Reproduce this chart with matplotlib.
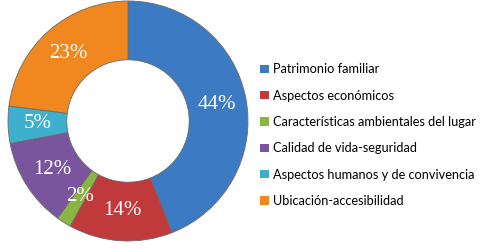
import matplotlib
matplotlib.use("Agg")
import matplotlib.pyplot as plt

categories = ["Patrimonio familiar", "Aspectos económicos",
              "Características ambientales del lugar", "Calidad de vida-seguridad",
              "Aspectos humanos y de convivencia", "Ubicación-accesibilidad"]
values = [44, 14, 2, 12, 5, 23]
colors = ["#3c7bc3", "#c03a3b", "#8bb543", "#7a559e", "#3eb0cd", "#f0871f"]

fig = plt.figure(figsize=(4.82, 2.48), dpi=100)
ax = fig.add_axes([8/482, 7/248, 240/482, 240/248])
wedges, texts, autotexts = ax.pie(
    values, colors=colors, startangle=90, counterclock=False,
    autopct=lambda p: f"{p:.0f}%", pctdistance=0.75,
    wedgeprops=dict(width=0.49, edgecolor="#6b6b6b", linewidth=0.6),
    textprops=dict(color="white", fontsize=15, family="Liberation Serif"))
ax.set_aspect("equal")
ax.set_xlim(-1, 1)
ax.set_ylim(-1, 1)

leg = fig.legend(wedges, categories, loc="upper left",
                 bbox_to_anchor=(254/482, 1 - 57/248), frameon=False,
                 prop=dict(family="Lato", size=9.2),
                 handlelength=0.65, handleheight=0.65, handletextpad=0.35,
                 labelspacing=1.12, borderpad=0)
for h in leg.legend_handles:
    h.set_edgecolor("none")

fig.savefig("out.png", dpi=100)
